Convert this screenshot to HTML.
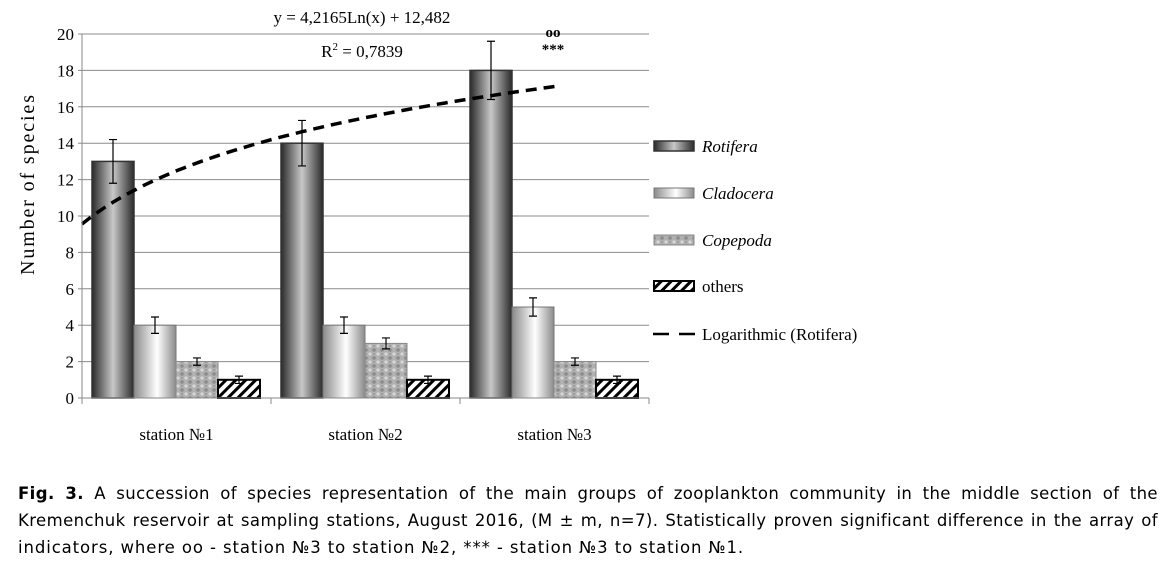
<!DOCTYPE html>
<html><head><meta charset="utf-8">
<style>
body{margin:0;background:#fff;width:1166px;height:560px;overflow:hidden;position:relative}
svg{position:absolute;left:0;top:0}
#cap{position:absolute;left:18px;top:480px;width:1140px;font-family:"DejaVu Sans",sans-serif;font-size:16.5px;letter-spacing:0.9px;line-height:27px;color:#000}
#cap span{display:block;white-space:nowrap}
#cap span.j{text-align:justify;text-align-last:justify;white-space:normal;letter-spacing:0.4px}
</style></head><body>
<svg id="chart" width="1166" height="470" font-family="Liberation Serif, serif">
<defs>
<linearGradient id="gRot" x1="0" x2="1"><stop offset="0" stop-color="#2a2a2a"/><stop offset="0.5" stop-color="#c8c8c8"/><stop offset="1" stop-color="#2a2a2a"/></linearGradient>
<linearGradient id="gCla" x1="0" x2="1"><stop offset="0" stop-color="#8a8a8a"/><stop offset="0.55" stop-color="#ffffff"/><stop offset="1" stop-color="#8a8a8a"/></linearGradient>
<pattern id="pCop" width="8" height="8" patternUnits="userSpaceOnUse"><rect width="8" height="8" fill="#b0b0b0"/><circle cx="2" cy="2" r="1.6" fill="#d8d8d8"/><circle cx="6" cy="6" r="1.8" fill="#8c8c8c"/><circle cx="6" cy="2" r="1" fill="#9a9a9a"/></pattern>
<pattern id="pOth" width="7" height="7" patternUnits="userSpaceOnUse" patternTransform="rotate(45)"><rect width="7" height="7" fill="#fff"/><rect width="3" height="7" fill="#000"/></pattern>
</defs>
<g id="grid"></g><g id="bars"></g><g id="axes"></g>
<text x="362" y="23" text-anchor="middle" font-size="17">y = 4,2165Ln(x) + 12,482</text>
<text x="362" y="57" text-anchor="middle" font-size="17">R<tspan dy="-7" font-size="11">2</tspan><tspan dy="7"> = 0,7839</tspan></text>
<text x="553" y="37" text-anchor="middle" font-size="15" font-weight="bold">oo</text>
<text x="553" y="54" text-anchor="middle" font-size="15" font-weight="bold">***</text>
<text transform="translate(34,185) rotate(-90)" text-anchor="middle" font-size="20" textLength="180" lengthAdjust="spacing">Number of species</text>
<g id="legend"></g>
</svg>
<div id="cap"><span class="j"><b>Fig. 3.</b> A succession of species representation of the main groups of zooplankton community in the middle section of the</span><span class="j">Kremenchuk reservoir at sampling stations, August 2016, (M ± m, n=7). Statistically proven significant difference in the array of</span><span>indicators, where oo - station №3 to station №2, *** - station №3 to station №1.</span></div>
<script>
const categories=["station №1","station №2","station №3"];
const seriesNames=["Rotifera","Cladocera","Copepoda","others"];
const rotifera=[13,14,18];
const cladocera=[4,4,5];
const copepoda=[2,3,2];
const others=[1,1,1];
const rotiferaErr=[1.2,1.25,1.6];
const cladoceraErr=[0.45,0.45,0.5];
const copepodaErr=[0.2,0.3,0.2];
const othersErr=[0.2,0.2,0.2];
const yTicks=[0,2,4,6,8,10,12,14,16,18,20];
const trendA=4.2165, trendB=12.482;
const NS="http://www.w3.org/2000/svg";
const X0=82,CW=189,Y0=398,PPU=18.2,BW=42;
const y=v=>Y0-v*PPU;
function mk(t,a,p){const e=document.createElementNS(NS,t);for(const k in a)e.setAttribute(k,a[k]);p.appendChild(e);return e;}
const grid=document.getElementById('grid'),bars=document.getElementById('bars'),axes=document.getElementById('axes'),leg=document.getElementById('legend');
yTicks.forEach(v=>{
 if(v>0){const l=mk('line',{x1:X0,x2:X0+3*CW,y1:y(v),y2:y(v),stroke:'#8c8c8c','stroke-width':1},grid);
 
 }
 const t=mk('text',{x:X0-8,y:y(v)+6,'text-anchor':'end','font-size':17},axes);t.textContent=v;
 
 
 mk('line',{x1:X0-4,x2:X0,y1:y(v),y2:y(v),stroke:'#888'},axes);
});
mk('line',{x1:X0,x2:X0,y1:y(20),y2:Y0,stroke:'#888'},axes);
mk('line',{x1:X0,x2:X0+3*CW,y1:Y0,y2:Y0,stroke:'#888'},axes);
for(let i=0;i<=3;i++)mk('line',{x1:X0+i*CW,x2:X0+i*CW,y1:Y0,y2:Y0+6,stroke:'#888'},axes);
const data=[rotifera,cladocera,copepoda,others],errs=[rotiferaErr,cladoceraErr,copepodaErr,othersErr];
const fills=['url(#gRot)','url(#gCla)','url(#pCop)','url(#pOth)'],strokes=['#333','#777','#888','#000'],sw=[1.5,1,1,2];
categories.forEach((c,i)=>{
 const t=mk('text',{x:X0+i*CW+CW/2,y:440,'text-anchor':'middle','font-size':17},axes);t.textContent=c;
 
 
 data.forEach((s,j)=>{
  const bx=X0+i*CW+10+j*BW;
  const r=mk('rect',{x:bx,y:y(s[i]),width:BW,height:s[i]*PPU,fill:fills[j],stroke:strokes[j],'stroke-width':sw[j]},bars);
  
  
  const cx=bx+BW/2,hi=y(s[i]+errs[j][i]),lo=y(s[i]-errs[j][i]);
  mk('path',{d:`M${cx},${hi}V${lo}M${cx-4},${hi}H${cx+4}M${cx-4},${lo}H${cx+4}`,stroke:'#000','stroke-width':1.2,fill:'none'},bars);
 });
});
let d='';for(let k=0;k<=60;k++){const xv=0.5+k*2.5/60;d+=(k?'L':'M')+(X0+(xv-0.5)*CW).toFixed(1)+','+y(trendA*Math.log(xv)+trendB).toFixed(1);}
const tl=mk('path',{d:d,stroke:'#000','stroke-width':3.5,fill:'none','stroke-dasharray':'11 7'},bars);


const ly=[146,193,240,286];
seriesNames.forEach((n,j)=>{
 mk('rect',{x:654,y:ly[j]-5,width:40,height:10,fill:fills[j],stroke:strokes[j],'stroke-width':sw[j]},leg);
 const t=mk('text',{x:702,y:ly[j]+6,'font-size':17,'font-style':j<3?'italic':'normal'},leg);t.textContent=n;
 
 
});
mk('path',{d:'M653,334H669M679,334H695',stroke:'#000','stroke-width':2.5},leg);
const lt=mk('text',{x:702,y:340,'font-size':17},leg);lt.textContent='Logarithmic (Rotifera)';


</script>
</body></html>
